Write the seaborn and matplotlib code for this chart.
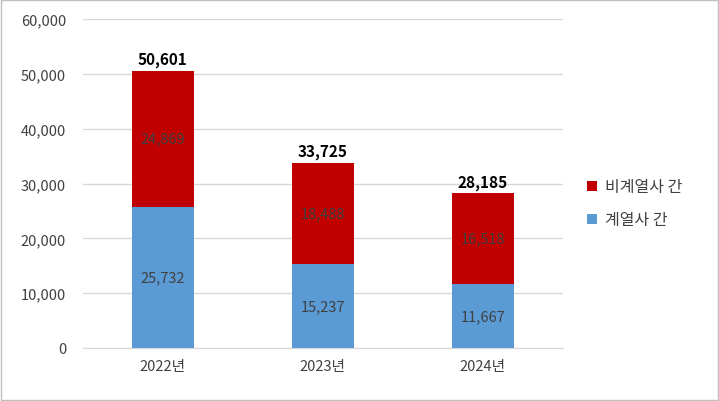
import numpy as np
import pandas as pd
import matplotlib.pyplot as plt
import seaborn as sns

years = ["2022년", "2023년", "2024년"]
affiliate = [25732, 15237, 11667]
non_affiliate = [24869, 18488, 16518]
totals = [50601, 33725, 28185]

sns.set_style("white")
plt.rcParams['font.family'] = ['Noto Sans CJK KR', 'DejaVu Sans']

df = pd.DataFrame({"year": years, "aff": affiliate, "non": non_affiliate, "total": totals})

fig = plt.figure(figsize=(7.19, 4.02), dpi=100)
ax = fig.add_axes([0.115, 0.132, 0.668, 0.818])

sns.barplot(data=df, x="year", y="total", color="#C00000", width=0.39, ax=ax,
            label="비계열사 간", saturation=1, zorder=2, linewidth=0)
sns.barplot(data=df, x="year", y="aff", color="#5B9BD5", width=0.39, ax=ax,
            label="계열사 간", saturation=1, zorder=3, linewidth=0)

for i in range(len(years)):
    ax.text(i, affiliate[i] / 2, f"{affiliate[i]:,}", ha="center", va="center",
            fontsize=10.5, color="#404040", zorder=5)
    ax.text(i, affiliate[i] + non_affiliate[i] / 2, f"{non_affiliate[i]:,}", ha="center",
            va="center", fontsize=10.5, color="#404040", zorder=5)
    ax.text(i, totals[i] + 700, f"{totals[i]:,}", ha="center", va="bottom",
            fontsize=11, color="black", fontweight="semibold", zorder=5)

ax.set_ylim(0, 60000)
ax.set_xlim(-0.5, 2.5)
ax.set_yticks(range(0, 60001, 10000))
ax.set_yticklabels([f"{v:,}" for v in range(0, 60001, 10000)], fontsize=10.5, color="#404040")
ax.tick_params(axis="x", labelsize=10.5, labelcolor="#404040", length=0, pad=8)
ax.tick_params(axis="y", length=0, pad=12)
ax.yaxis.grid(True, color="#D9D9D9", linewidth=1, zorder=0)
ax.set_axisbelow(True)
ax.set_xlabel("")
ax.set_ylabel("")
for s in ["top", "right", "left"]:
    ax.spines[s].set_visible(False)
ax.spines["bottom"].set_color("#D9D9D9")

ax.legend(loc="center left", bbox_to_anchor=(1.02, 0.44), frameon=False, fontsize=11.5,
          handlelength=0.6, handleheight=0.6, handletextpad=0.5, labelspacing=1.0,
          labelcolor="#404040")

fig.patches.append(plt.Rectangle((0.001, 0.002), 0.997, 0.995, transform=fig.transFigure,
                                 fill=False, edgecolor="#BFBFBF", linewidth=1))

fig.savefig("out.png", dpi=100)
